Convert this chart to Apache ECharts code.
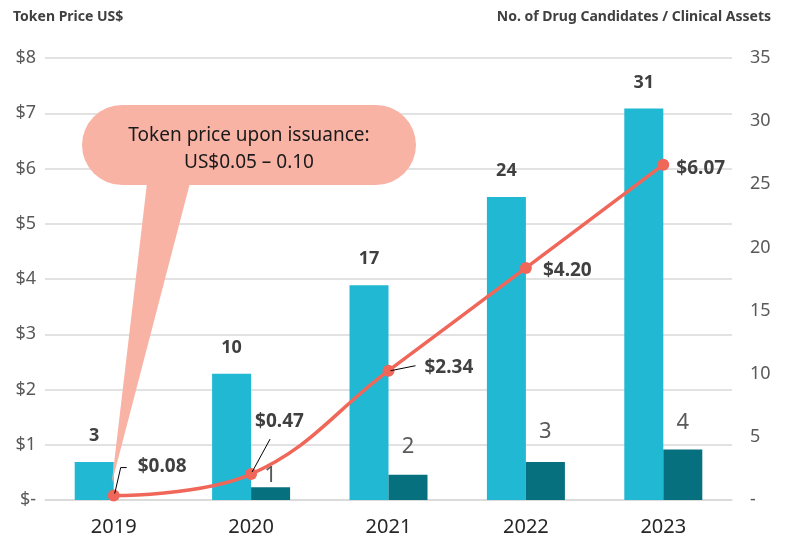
<!DOCTYPE html>
<html><head><meta charset="utf-8">
<script src="https://cdn.jsdelivr.net/npm/echarts@6/dist/echarts.min.js"></script>
<style>html,body{margin:0;padding:0;background:#fff}#c{width:787px;height:537px}</style>
</head><body><div id="c"></div>
<script>
const years = ['2019','2020','2021','2022','2023'];
const drugCandidates = [3, 10, 17, 24, 31];
const clinicalAssets = [null, 1, 2, 3, 4];
const tokenPrice = [0.08, 0.47, 2.34, 4.20, 6.07];
const leftTicks = ['$-','$1','$2','$3','$4','$5','$6','$7','$8'];
const rightTicks = ['-','5','10','15','20','25','30','35'];
const calloutText = 'Token price upon issuance:\nUS$0.05 \u2013 0.10';

const FONT = 'Noto Sans';
// label offsets for price labels (style only)
const priceLabelOffsets = [[18,-29],[-2,-52],[30,-3],[11,3],[7,4]];
const assetLabelDist = [17, 1, 17, 19, 16];

const chart = echarts.init(document.getElementById('c'), null, {renderer:'canvas'});
const option = {
  animation:false,
  textStyle:{fontFamily:FONT},
  grid:{left:45, right:55, top:58, bottom:35},
  xAxis:{type:'category', data:years,
    axisLine:{show:true, lineStyle:{color:'#d9d9d9', width:1.5}},
    axisTick:{show:false},
    axisLabel:{fontSize:20, color:'#262626', margin:17, fontFamily:FONT}},
  yAxis:[
    {type:'value', min:0, max:8, interval:1, position:'left',
      axisLabel:{fontSize:18, color:'#595959', margin:9, fontFamily:FONT,
        formatter:v=>leftTicks[Math.round(v)]},
      splitLine:{lineStyle:{color:'#d9d9d9', width:1.5}},
      axisLine:{show:false}, axisTick:{show:false}},
    {type:'value', min:0, max:35, interval:5, position:'right',
      axisLabel:{fontSize:18, color:'#595959', margin:18, align:'left', fontFamily:FONT,
        formatter:v=>rightTicks[Math.round(v/5)]},
      splitLine:{show:false}, axisLine:{show:false}, axisTick:{show:false}}
  ],
  series:[
    {type:'bar', name:'Drug candidates', yAxisIndex:1, data:drugCandidates,
      barWidth:39, barGap:'0%', itemStyle:{color:'#21B8D3'}, z:2,
      label:{show:true, position:'top', distance:17, fontSize:18, fontWeight:'bold', color:'#404040', fontFamily:FONT}},
    {type:'bar', name:'Clinical assets', yAxisIndex:1,
      data:clinicalAssets.map((v,i)=>({value:v, label:{distance:assetLabelDist[i]}})),
      barWidth:39, itemStyle:{color:'#06707F'}, z:2,
      label:{show:true, position:'top', fontSize:22, color:'#595959', fontFamily:FONT}},
    {type:'line', name:'Token price', yAxisIndex:0,
      data:tokenPrice.map((v,i)=>({value:v, label:{offset:priceLabelOffsets[i]}})),
      smooth:0.4, symbol:'circle', symbolSize:12, z:10,
      lineStyle:{color:'#F0675A', width:3.5}, itemStyle:{color:'#F0675A'},
      label:{show:true, position:'right', distance:0, fontSize:19, fontWeight:'bold', color:'#404040', fontFamily:FONT,
        formatter:p=>'$'+p.value.toFixed(2)}}
  ]
};
chart.setOption(option);

function px(i){ return chart.convertToPixel({xAxisIndex:0, yAxisIndex:0},[i, tokenPrice[i]]); }
const p0 = px(0), p1 = px(1), p2 = px(2);
const graphics = [
  {type:'polygon', z:5, shape:{points:[[147,183],[190,183],[p0[0]-2,p0[1]-12]]}, style:{fill:'#F8B3A5'}},
  {type:'rect', z:5, shape:{x:82, y:105, width:334, height:80, r:40}, style:{fill:'#F8B3A5'}},
  {type:'text', z:6, x:249, y:149, style:{text:calloutText, font:'19px "Noto Sans"', fill:'#1a1a1a', align:'center', verticalAlign:'middle', lineHeight:27}},
  {type:'polyline', z:11, shape:{points:[[p0[0]+1,p0[1]-2],[p0[0]+7,p0[1]-28],[p0[0]+13,p0[1]-28]]}, style:{stroke:'#000', lineWidth:1, fill:null}},
  {type:'line', z:11, shape:{x1:p1[0]+1, y1:p1[1]-2, x2:p1[0]+19, y2:p1[1]-35}, style:{stroke:'#000', lineWidth:1}},
  {type:'line', z:11, shape:{x1:p2[0]+2, y1:p2[1], x2:p2[0]+27, y2:p2[1]-5}, style:{stroke:'#000', lineWidth:1}},
  {type:'text', z:6, left:13, top:10, style:{text:'Token Price US$', font:'bold 14px "Noto Sans"', fill:'#404040'}},
  {type:'text', z:6, right:16, top:10, style:{text:'No. of Drug Candidates / Clinical Assets', font:'bold 14px "Noto Sans"', fill:'#404040'}}
];
chart.setOption({graphic:graphics});
</script></body></html>
